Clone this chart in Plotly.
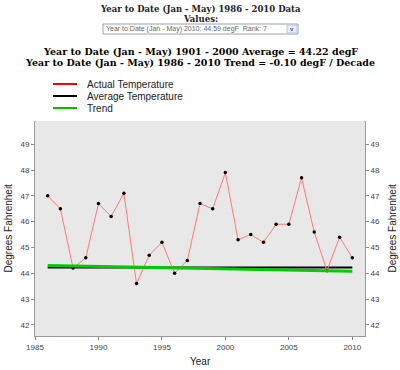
import plotly.graph_objects as go

years = list(range(1986, 2011))
actual = [47.0, 46.5, 44.2, 44.6, 46.7, 46.2, 47.1, 43.6, 44.7, 45.2, 44.0, 44.5,
          46.7, 46.5, 47.9, 45.3, 45.5, 45.2, 45.9, 45.9, 47.7, 45.6, 44.1, 45.4, 44.6]
average_value = 44.22
trend_years = [1986, 2010]
trend_values = [44.30, 44.08]
legend_names = ["Actual Temperature", "Average Temperature", "Trend"]
legend_colors = ["#ff0000", "#000000", "#00c000"]

W, H = 400, 370
ml, mr, mt, mb = 35, 35, 121, 34
ph = H - mt - mb
pw = W - ml - mr

def py(p):  # pixel y -> paper y
    return (H - mb - p) / ph

def px(p):  # pixel x -> paper x
    return (p - ml) / pw

fig = go.Figure()
fig.add_trace(go.Scatter(x=[years[0], years[-1]], y=[average_value, average_value], mode="lines",
                         line=dict(color="#000000", width=2), showlegend=False, hoverinfo="skip"))
fig.add_trace(go.Scatter(x=years, y=actual, mode="lines+markers",
                         line=dict(color="#ff7a7a", width=1),
                         marker=dict(color="#000000", size=3.5, symbol="circle"),
                         showlegend=False))
fig.add_trace(go.Scatter(x=trend_years, y=trend_values, mode="lines",
                         line=dict(color="#00cc00", width=3), showlegend=False, hoverinfo="skip",
                         yaxis="y2"))

serif = "DejaVu Serif"
sans = "Liberation Sans"
ann = []
shapes = []
ann.append(dict(text="<b>Year to Date (Jan - May) 1986 - 2010 Data</b>", x=0.5, y=py(9), xref="paper", yref="paper",
                showarrow=False, font=dict(family=serif, size=8.5, color="#222"), xanchor="center", yanchor="middle"))
ann.append(dict(text="<b>Values:</b>", x=0.5, y=py(19), xref="paper", yref="paper",
                showarrow=False, font=dict(family=serif, size=8.5, color="#222"), xanchor="center", yanchor="middle"))
# dropdown box
shapes.append(dict(type="rect", xref="paper", yref="paper", x0=px(103), x1=px(298), y0=py(34), y1=py(24),
                   line=dict(color="#9aa4b0", width=1), fillcolor="#ffffff"))
shapes.append(dict(type="rect", xref="paper", yref="paper", x0=px(287), x1=px(297), y0=py(33), y1=py(25),
                   line=dict(color="#b8c8e0", width=1), fillcolor="#e8eef8"))
ann.append(dict(text="Year to Date (Jan - May) 2010: 44.59 degF  Rank: 7", x=px(104), y=py(29), xref="paper", yref="paper",
                showarrow=False, font=dict(family=sans, size=7, color="#666"), xanchor="left", yanchor="middle"))
ann.append(dict(text="<b>v</b>", x=px(292), y=py(29), xref="paper", yref="paper",
                showarrow=False, font=dict(family=sans, size=6, color="#3050a0"), xanchor="center", yanchor="middle"))
ann.append(dict(text="<b>Year to Date (Jan - May) 1901 - 2000 Average = 44.22 degF</b>", x=0.5, y=py(51.5), xref="paper", yref="paper",
                showarrow=False, font=dict(family=serif, size=9.5, color="#000"), xanchor="center", yanchor="middle"))
ann.append(dict(text="<b>Year to Date (Jan - May) 1986 - 2010 Trend = -0.10 degF / Decade</b>", x=0.5, y=py(62.5), xref="paper", yref="paper",
                showarrow=False, font=dict(family=serif, size=9.5, color="#000"), xanchor="center", yanchor="middle"))
# legend
for i, (name, col) in enumerate(zip(legend_names, legend_colors)):
    yy = 84 + 12 * i
    shapes.append(dict(type="line", xref="paper", yref="paper", x0=px(53), x1=px(77), y0=py(yy), y1=py(yy),
                       line=dict(color=col, width=2)))
    ann.append(dict(text=name, x=px(85), y=py(yy), xref="paper", yref="paper", showarrow=False,
                    font=dict(family=sans, size=10, color="#222"), xanchor="left", yanchor="middle"))
# axis titles
ann.append(dict(text="Degrees Fahrenheit", x=px(392), y=0.5, xref="paper", yref="paper", showarrow=False,
                textangle=-90, font=dict(family=sans, size=10, color="#222"), xanchor="center", yanchor="middle"))
ann.append(dict(text="Degrees Fahrenheit", x=px(8), y=0.5, xref="paper", yref="paper", showarrow=False,
                textangle=-90, font=dict(family=sans, size=10, color="#222"), xanchor="center", yanchor="middle"))
ann.append(dict(text="Year", x=px(200), y=py(361), xref="paper", yref="paper", showarrow=False,
                font=dict(family=sans, size=10, color="#222"), xanchor="center", yanchor="middle"))

axis_common = dict(ticks="outside", ticklen=3, tickcolor="#888", showline=True, linecolor="#999",
                   linewidth=1, showgrid=False, zeroline=False,
                   tickfont=dict(family=sans, size=8, color="#444"))

fig.update_layout(
    width=W, height=H, margin=dict(l=ml, r=mr, t=mt, b=mb),
    paper_bgcolor="#ffffff", plot_bgcolor="#e8e8e8",
    showlegend=False,
    annotations=ann, shapes=shapes,
    xaxis=dict(range=[1985, 2011], tick0=1985, dtick=5, **axis_common),
    yaxis=dict(range=[41.57, 49.9], tick0=42, dtick=1, **axis_common),
    yaxis2=dict(range=[41.57, 49.9], tick0=42, dtick=1, overlaying="y", side="right", **axis_common),
)
fig.write_html("out.html")
